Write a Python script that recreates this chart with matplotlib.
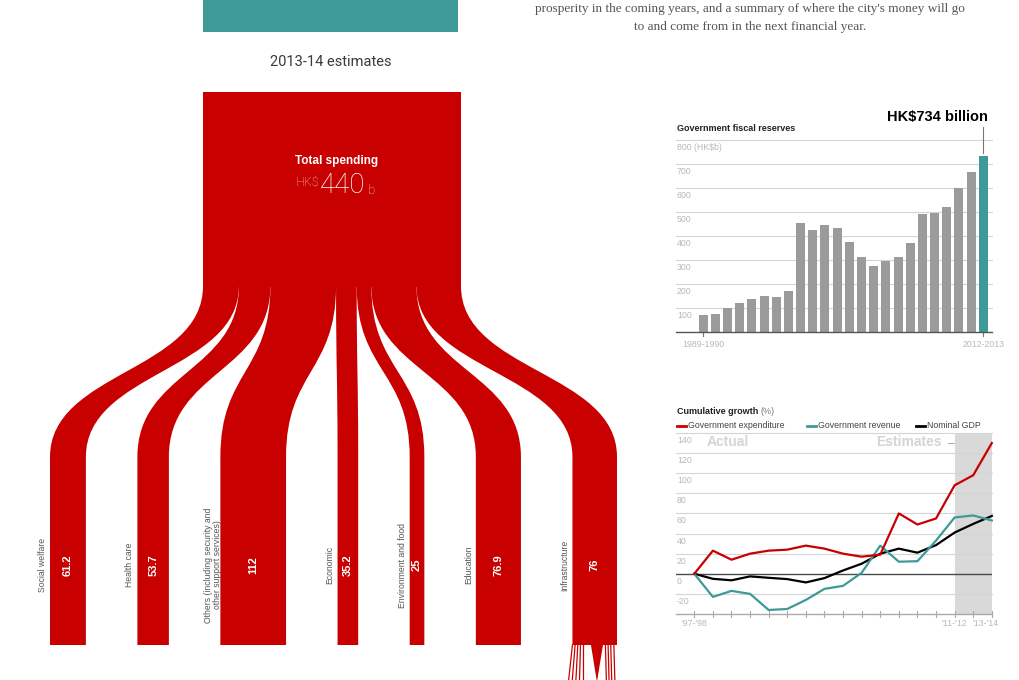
import numpy as np
import matplotlib.pyplot as plt
import matplotlib.transforms as mtransforms
from matplotlib.patches import Rectangle, Polygon, PathPatch
from matplotlib.path import Path

# ---- data ----
total_spending = 440
spend_labels = ['Social welfare', 'Health care',
                'Others (including security and\nother support services)',
                'Economic', 'Environment and food', 'Education', 'Infrastructure']
spend_values = [61.2, 53.7, 112, 35.2, 25, 76.9, 76]

reserve_years = ['%d-%d' % (y, y + 1) for y in range(1989, 2013)]
reserve_values = [71, 73, 97, 119, 137, 149, 144, 170, 453, 425, 444, 432,
                  372, 310, 273, 293, 310, 368, 491, 494, 519, 597, 664, 734]

growth_years = ["'97-'98", "'98-'99", "'99-'00", "'00-'01", "'01-'02", "'02-'03",
                "'03-'04", "'04-'05", "'05-'06", "'06-'07", "'07-'08", "'08-'09",
                "'09-'10", "'10-'11", "'11-'12", "'12-'13", "'13-'14"]
expenditure = [0, 23, 14, 20, 23, 24, 28, 25, 20, 17, 19, 60, 49, 55, 88, 98, 130]
revenue = [0, -23, -17, -20, -36, -35, -26, -15, -12, 1, 28, 12, 12.5, 33, 56, 58, 53]
gdp = [0, -5, -6.5, -2.6, -4, -5.3, -8.6, -4.3, 3.3, 10, 20, 25, 21, 28.5, 41, 49.6, 57.5]

RED = '#c80000'
TEAL = '#3d9a98'
GRAY_BAR = '#9b9b9b'
GRID = '#d4d4d4'
LIGHT_TXT = '#b8b8b8'
SANS = 'Liberation Sans'

W, H = 1020, 680
fig = plt.figure(figsize=(W / 100, H / 100), dpi=100)
base = fig.add_axes([0, 0, 1, 1])
base.set_xlim(0, W)
base.set_ylim(H, 0)
base.axis('off')

# ---- header bits ----
base.add_patch(Rectangle((203, -2), 255, 33.5, color=TEAL, lw=0))
base.text(750, 9, "prosperity in the coming years, and a summary of where the city's money will go",
          ha='center', va='center', fontsize=9.5, color='#555555', family='Liberation Serif')
base.text(750, 27, "to and come from in the next financial year.",
          ha='center', va='center', fontsize=9.5, color='#555555', family='Liberation Serif')
base.text(331, 62, '2013-14 estimates', ha='center', va='center', fontsize=10.5,
          color='#3a3a3a', family='Roboto')

# ---- spending flow ----
scale = 258 / total_spending      # px per HK$b
x0, y_top, y_split, y_col, y_end = 203, 92, 286, 457, 645
gap = 51.5
widths = np.array(spend_values) * scale
top_left = x0 + np.concatenate([[0], np.cumsum(widths)[:-1]])
bot_left = 50 + np.concatenate([[0], np.cumsum(widths)[:-1]]) + gap * np.arange(len(widths))

base.add_patch(Rectangle((x0, y_top), widths.sum(), y_split - y_top + 1, color=RED, lw=0))
c = (y_col - y_split) * 0.5
for tl, bl, w in zip(top_left, bot_left, widths):
    verts = [(tl, y_split), (tl, y_split + c), (bl, y_col - c), (bl, y_col),
             (bl, y_end), (bl + w, y_end), (bl + w, y_col),
             (bl + w, y_col - c), (tl + w, y_split + c), (tl + w, y_split), (tl, y_split)]
    codes = [Path.MOVETO, Path.CURVE4, Path.CURVE4, Path.CURVE4,
             Path.LINETO, Path.LINETO, Path.LINETO,
             Path.CURVE4, Path.CURVE4, Path.CURVE4, Path.CLOSEPOLY]
    base.add_patch(PathPatch(Path(verts, codes), color=RED, lw=0))

for lab, val, bl, w in zip(spend_labels, spend_values, bot_left, widths):
    base.text(bl - 7.5, 565, lab, rotation=90, ha='center', va='center', fontsize=6.2,
              color='#555555', family=SANS, linespacing=1.05)
    base.text(bl + w / 2, 565, ('%g' % val), rotation=90, ha='center', va='center',
              fontsize=8, color='white', fontweight='bold', family=SANS)

# infrastructure starts splitting further below the frame
bl, w = bot_left[-1], widths[-1]
for f, d in [(0.0, -4), (0.06, -3), (0.12, -2), (0.18, -1), (0.24, 0)]:
    base.plot([bl + f * w, bl + f * w + d], [y_end, H + 2], color=RED, lw=0.9)
for f in [0.74, 0.8, 0.86, 0.93]:
    base.plot([bl + f * w, bl + f * w + 1], [y_end, H + 2], color=RED, lw=0.9)
cx = bl + 0.55 * w
base.add_patch(Polygon([(cx - 6, y_end), (cx + 6, y_end), (cx, H + 2)], color=RED, lw=0))

base.text(337, 161, 'Total spending', ha='center', va='center', fontsize=8.5,
          color='white', fontweight='bold', family=SANS)
base.text(319, 182, 'HK$', ha='right', va='center', fontsize=9, color='#f5c8c8',
          family='Roboto', fontweight='light')
base.text(320, 185.5, '%d' % total_spending, ha='left', va='center', fontsize=20,
          color='white', family='Roboto', fontweight='light')
base.text(368, 191, 'b', ha='left', va='center', fontsize=9.5, color='#f5c8c8',
          family='Roboto', fontweight='light')

# ---- fiscal reserves bar chart ----
axb = fig.add_axes([676 / W, (H - 331.7) / H, (992 - 676) / W, (331.7 - 139.7) / H])
axb.set_xlim(-2.24, 23.72)
axb.set_ylim(0, 800)
axb.axis('off')
blend_b = mtransforms.blended_transform_factory(axb.transAxes, axb.transData)
for v in range(100, 801, 100):
    axb.axhline(v, color=GRID, lw=0.8, zorder=0, clip_on=False)
    lab = '800 (HK$b)' if v == 800 else str(v)
    axb.text(0.003, v - 31, lab, transform=blend_b, ha='left', va='center',
             fontsize=6.3, color=LIGHT_TXT, family=SANS)
xb = np.arange(len(reserve_values))
colors = [GRAY_BAR] * (len(reserve_values) - 1) + [TEAL]
axb.bar(xb, reserve_values, width=0.74, color=colors, zorder=2)
axb.axhline(0, color='#555555', lw=1.0, zorder=3, clip_on=False)
for i in [0, len(xb) - 1]:
    axb.plot([i, i], [0, -18], color='#777777', lw=0.8, clip_on=False)
    axb.text(i, -55, reserve_years[i], ha='center', va='center', fontsize=6.3,
             color=LIGHT_TXT, family=SANS, clip_on=False)
axb.plot([xb[-1], xb[-1]], [reserve_values[-1] + 10, 855], color='#777777', lw=0.8, clip_on=False)
axb.text(23.4, 893, 'HK$%d billion' % reserve_values[-1], ha='right', va='center',
         fontsize=10.5, fontweight='bold', color='black', family=SANS)
base.text(677, 128.5, 'Government fiscal reserves', ha='left', va='center', fontsize=6.5,
          fontweight='bold', color='#222222', family=SANS)

# ---- cumulative growth line chart ----
axl = fig.add_axes([676 / W, (H - 614) / H, (992 - 676) / W, (614 - 433) / H])
axl.set_xlim(-0.984, 16.01)
axl.set_ylim(-40, 140)
axl.axis('off')
axl.axvspan(14, 16, color='#d9d9d9', lw=0, zorder=0)
blend = mtransforms.blended_transform_factory(axl.transAxes, axl.transData)
for v in range(140, -21, -20):
    if v == 0:
        axl.axhline(0, color='#4a4a4a', lw=1.0, zorder=1)
    else:
        axl.axhline(v, color=GRID, lw=0.8, zorder=1, clip_on=False)
    axl.text(0.003, v - 7.5, str(v), transform=blend, ha='left', va='center',
             fontsize=6.3, color=LIGHT_TXT, family=SANS)
axl.axhline(-40, color='#aaaaaa', lw=1.0, zorder=1, clip_on=False)
xl = np.arange(len(growth_years))
for i in xl:
    axl.plot([i, i], [-43, -37], color='#aaaaaa', lw=0.8, clip_on=False)
for i, dx in [(0, 0), (14, 0), (16, -0.35)]:
    axl.text(i + dx, -49, growth_years[i], ha='center', va='center', fontsize=6.3,
             color=LIGHT_TXT, family=SANS, clip_on=False)
axl.plot(xl, gdp, color='black', lw=1.6, zorder=3, clip_on=False)
axl.plot(xl, revenue, color=TEAL, lw=1.6, zorder=4, clip_on=False)
axl.plot(xl, expenditure, color=RED, lw=1.6, zorder=5, clip_on=False)

title = base.text(677, 411, 'Cumulative growth', ha='left', va='center', fontsize=6.5,
                  fontweight='bold', color='#222222', family=SANS)
renderer = fig.canvas.get_renderer()
bb = title.get_window_extent(renderer=renderer)
x_after = base.transData.inverted().transform((bb.x1, bb.y0))[0]
base.text(x_after + 2, 411, '(%)', ha='left', va='center', fontsize=6.5,
          color='#777777', family=SANS)
for xs, col, lab in [(677, RED, 'Government expenditure'), (807, TEAL, 'Government revenue'),
                     (916, 'black', 'Nominal GDP')]:
    base.plot([xs, xs + 9], [425.5, 425.5], color=col, lw=2)
    base.text(xs + 11, 425.5, lab, ha='left', va='center', fontsize=6.3, color='#444444', family=SANS)
base.text(707, 442.5, 'Actual', ha='left', va='center', fontsize=10, fontweight='bold',
          color='#d4d4d4', family=SANS)
base.text(942, 442.5, 'Estimates', ha='right', va='center', fontsize=10, fontweight='bold',
          color='#d4d4d4', family=SANS)
base.plot([948, 962], [443, 443], color='#b0b0b0', lw=0.8)

fig.savefig('out.png', dpi=100)
